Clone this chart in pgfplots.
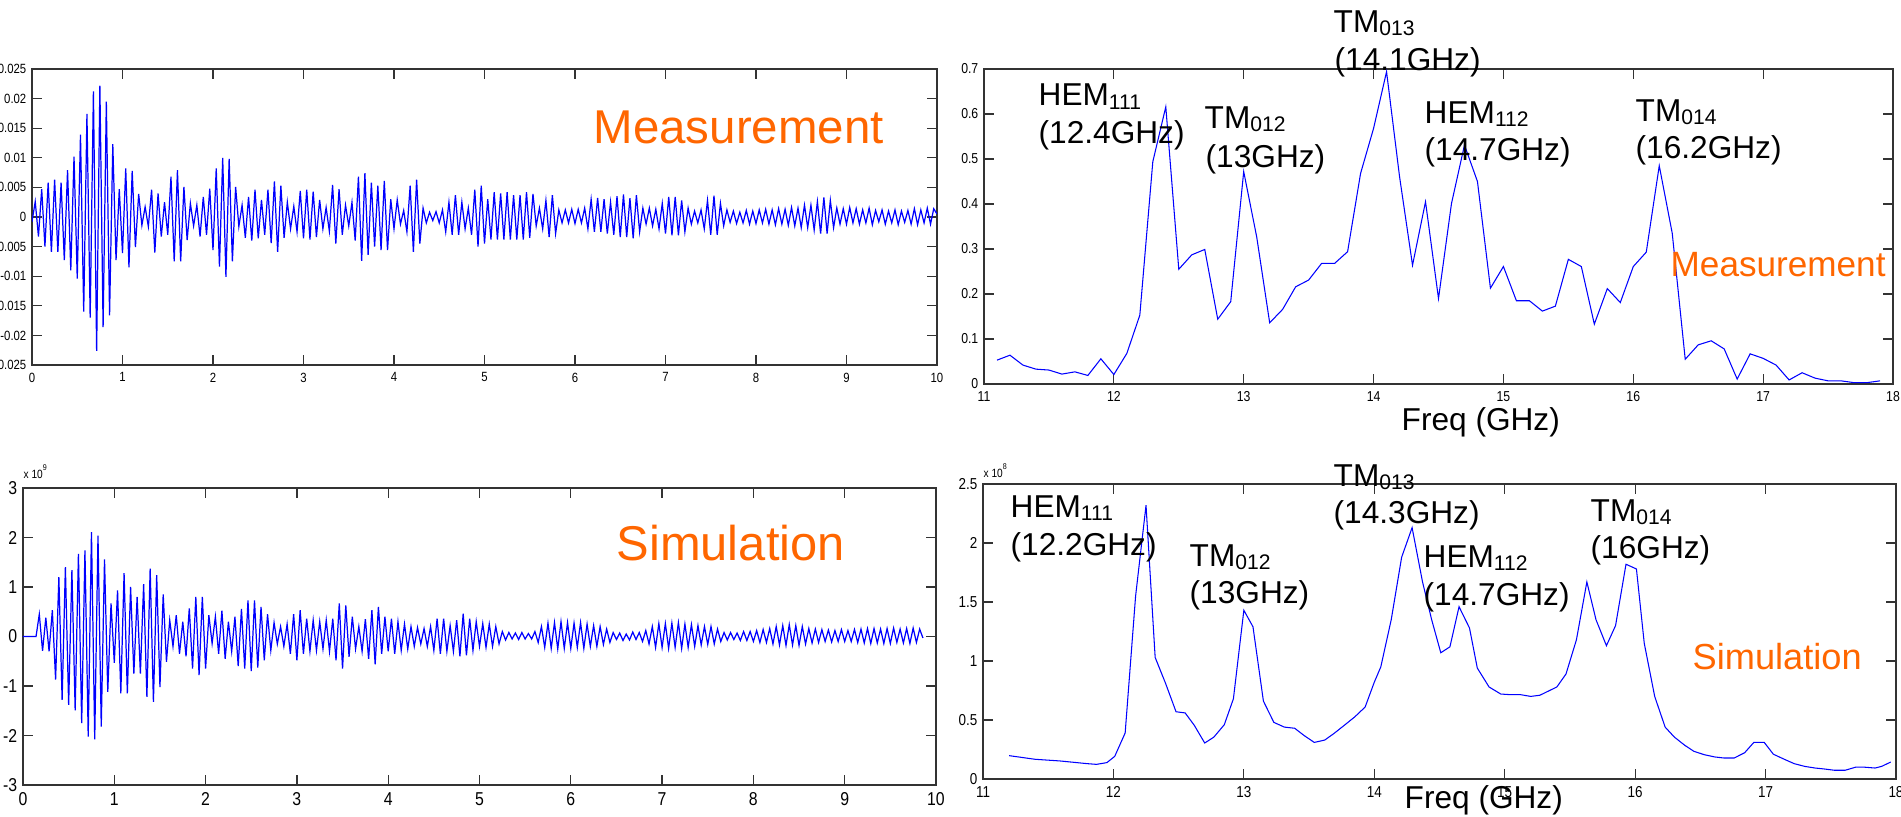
\documentclass[border=0pt]{standalone}
\usepackage{fontspec}
\setmainfont{Liberation Sans}
\newfontfamily\tickfont[FakeStretch=0.85]{Liberation Sans}
\usepackage{pgfplots}
\pgfplotsset{compat=1.18}
\definecolor{morange}{RGB}{255,102,0}
\definecolor{mblue}{RGB}{0,0,255}
\pgfplotsset{mat/.style={scale only axis, anchor=south west,
  axis line style={draw=black!80,line width=0.35pt},
  tick style={draw=black!80,line width=0.35pt},
  tick align=inside, xtick pos=both, ytick pos=both, major tick length=0.1cm,
  /pgf/number format/assume math mode=true,
  xticklabel style={inner sep=0pt, anchor=north, yshift=-0.07cm},
  yticklabel style={inner sep=0pt, anchor=east, xshift=-0.05cm}}}
\tikzset{ann/.style={anchor=base west, inner sep=0pt, font=\fontsize{9}{10}\selectfont}}
\begin{document}
\begin{tikzpicture}
\useasboundingbox (0,0) rectangle (19.01,8.16);
% ---------------- top left: measured time signal (units 1e-3)
\begin{axis}[mat, at={(0.32cm,4.51cm)}, width=9.05cm, height=2.96cm,
  xmin=0, xmax=10, ymin=-25, ymax=25, xtick={0,1,2,3,4,5,6,7,8,9,10},
  ytick={-25,-20,-15,-10,-5,0,5,10,15,20,25},
  yticklabels={-0.025,-0.02,-0.015,-0.01,-0.005,0,0.005,0.01,0.015,0.02,0.025},
  ticklabel style={font=\tickfont\fontsize{3.8}{4}\selectfont}]
\addplot[mblue, line width=0.35pt] table[row sep=\\, header=false, x expr=\coordindex/28, y index=0]{
-0.8\\ 2.6\\ -3.3\\ 4.7\\ -5.0\\ 5.8\\ -5.9\\ 6.3\\ -5.9\\ 5.8\\ -7.3\\ 7.9\\ -9.0\\ 10.2\\ -10.4\\ 13.9\\ -16.0\\ 17.4\\ -17.0\\ 21.2\\ -22.6\\ 22.2\\ -18.6\\ 19.5\\ -16.6\\ 12.3\\ -7.3\\ 4.7\\
-6.1\\ 8.2\\ -8.5\\ 7.8\\ -5.1\\ 3.9\\ -1.4\\ 1.7\\ -1.6\\ 4.6\\ -6.0\\ 4.0\\ -3.3\\ 2.5\\ -3.0\\ 6.8\\ -7.5\\ 7.9\\ -7.5\\ 5.1\\ -3.9\\ 2.3\\ -1.5\\ 2.0\\ -3.3\\ 3.4\\ -3.0\\ 4.8\\
-5.6\\ 8.2\\ -8.4\\ 10.0\\ -10.1\\ 9.8\\ -7.5\\ 5.1\\ -1.6\\ 2.0\\ -3.5\\ 3.4\\ -4.0\\ 4.6\\ -3.6\\ 2.9\\ -3.0\\ 4.6\\ -4.4\\ 6.0\\ -5.9\\ 5.3\\ -3.5\\ 2.5\\ -2.0\\ 1.8\\ -2.5\\ 4.4\\
-3.6\\ 4.6\\ -3.8\\ 4.3\\ -3.4\\ 2.9\\ -2.0\\ 1.6\\ -2.4\\ 5.4\\ -4.5\\ 4.7\\ -3.0\\ 2.0\\ -1.5\\ 2.5\\ -4.0\\ 6.8\\ -7.4\\ 7.4\\ -6.4\\ 5.8\\ -5.0\\ 5.3\\ -5.6\\ 6.1\\ -5.6\\ 3.0\\
-2.0\\ 2.9\\ -1.2\\ 1.1\\ -2.5\\ 5.3\\ -5.9\\ 6.3\\ -4.5\\ 1.5\\ -1.0\\ 0.8\\ -0.6\\ 0.9\\ -1.0\\ 1.2\\ -2.5\\ 2.5\\ -3.0\\ 3.7\\ -3.0\\ 2.5\\ -2.0\\ 1.5\\ -3.0\\ 4.6\\ -5.0\\ 5.3\\
-4.5\\ 3.0\\ -3.8\\ 4.2\\ -3.8\\ 4.0\\ -3.8\\ 4.2\\ -3.8\\ 3.7\\ -3.8\\ 3.7\\ -3.8\\ 4.2\\ -3.5\\ 3.9\\ -1.5\\ 1.5\\ -2.0\\ 2.8\\ -3.4\\ 3.7\\ -2.8\\ 1.2\\ -1.0\\ 1.2\\ -1.0\\ 1.3\\
-1.1\\ 1.3\\ -1.0\\ 1.5\\ -2.0\\ 3.0\\ -2.5\\ 3.2\\ -2.5\\ 3.0\\ -2.8\\ 2.5\\ -3.0\\ 3.5\\ -3.4\\ 3.8\\ -3.4\\ 3.2\\ -3.6\\ 3.7\\ -2.5\\ 1.5\\ -1.2\\ 1.5\\ -1.5\\ 1.3\\ -2.0\\ 2.3\\
-2.8\\ 3.4\\ -3.1\\ 3.4\\ -3.1\\ 2.8\\ -2.5\\ 1.5\\ -1.2\\ 1.0\\ -1.0\\ 1.2\\ -2.0\\ 2.8\\ -3.0\\ 3.6\\ -3.0\\ 2.3\\ -1.5\\ 1.2\\ -0.9\\ 1.0\\ -1.1\\ 0.8\\ -1.0\\ 1.1\\ -1.2\\ 1.0\\
-1.1\\ 1.2\\ -1.0\\ 1.3\\ -1.2\\ 1.2\\ -1.3\\ 1.4\\ -1.2\\ 1.3\\ -1.4\\ 1.6\\ -1.5\\ 1.5\\ -1.8\\ 2.0\\ -1.8\\ 2.0\\ -2.2\\ 2.6\\ -2.8\\ 3.3\\ -2.8\\ 2.8\\ -1.8\\ 1.5\\ -1.2\\ 1.4\\
-1.2\\ 1.6\\ -1.0\\ 1.4\\ -1.2\\ 1.2\\ -1.0\\ 1.5\\ -1.3\\ 1.1\\ -0.8\\ 1.2\\ -1.2\\ 1.0\\ -1.0\\ 1.2\\ -1.3\\ 1.0\\ -0.9\\ 1.1\\ -1.2\\ 1.4\\ -1.3\\ 1.2\\ -1.0\\ 1.5\\ -1.2\\ 1.4\\ 0.5\\
};
\end{axis}
% ---------------- top right: measured spectrum
\begin{axis}[mat, at={(9.84cm,4.32cm)}, width=9.09cm, height=3.15cm,
  xmin=11, xmax=18, ymin=0, ymax=0.7, xtick={11,12,13,14,15,16,17,18},
  ytick={0,0.1,0.2,0.3,0.4,0.5,0.6,0.7},
  yticklabels={0,0.1,0.2,0.3,0.4,0.5,0.6,0.7},
  ticklabel style={font=\tickfont\fontsize{4.1}{4.5}\selectfont}]
\addplot[mblue, line width=0.3pt] coordinates {
(11.1,0.053)(11.2,0.064)(11.3,0.042)(11.4,0.033)(11.5,0.031)(11.6,0.022)(11.7,0.027)(11.8,0.019)(11.9,0.056)(12.0,0.021)
(12.1,0.068)(12.2,0.153)(12.3,0.494)(12.4,0.616)(12.5,0.255)(12.6,0.287)(12.7,0.299)(12.8,0.144)(12.9,0.183)(13.0,0.472)
(13.1,0.327)(13.2,0.136)(13.3,0.166)(13.4,0.216)(13.5,0.231)(13.6,0.268)(13.7,0.268)(13.8,0.294)(13.9,0.468)(14.0,0.568)
(14.1,0.694)(14.2,0.461)(14.3,0.264)(14.4,0.405)(14.5,0.190)(14.6,0.401)(14.7,0.531)(14.8,0.450)(14.9,0.213)(15.0,0.261)
(15.1,0.185)(15.2,0.185)(15.3,0.162)(15.4,0.173)(15.5,0.277)(15.6,0.261)(15.7,0.133)(15.8,0.212)(15.9,0.181)(16.0,0.261)
(16.1,0.293)(16.2,0.485)(16.3,0.335)(16.4,0.055)(16.5,0.087)(16.6,0.096)(16.7,0.078)(16.8,0.011)(16.9,0.067)(17.0,0.057)
(17.1,0.042)(17.2,0.009)(17.3,0.025)(17.4,0.013)(17.5,0.007)(17.6,0.007)(17.7,0.003)(17.8,0.003)(17.9,0.007)};
\end{axis}
% ---------------- bottom left: simulated time signal (units 1e9)
\begin{axis}[mat, at={(0.23cm,0.31cm)}, width=9.13cm, height=2.97cm,
  xmin=0, xmax=10, ymin=-3, ymax=3, xtick={0,1,2,3,4,5,6,7,8,9,10},
  ytick={-3,-2,-1,0,1,2,3}, yticklabels={-3,-2,-1,0,1,2,3},
  ticklabel style={font=\tickfont\fontsize{5.3}{6}\selectfont}]
\addplot[mblue, line width=0.35pt] table[row sep=\\, header=false, x expr=\coordindex/28, y index=0]{
0\\ 0\\ 0\\ 0\\ 0\\ 0.45\\ -0.29\\ 0.38\\ -0.30\\ 0.53\\ -0.87\\ 1.2\\ -1.28\\ 1.4\\ -1.38\\ 1.34\\ -1.49\\ 1.67\\ -1.75\\ 1.74\\ -2.02\\ 2.11\\ -2.08\\ 2.04\\ -1.82\\ 1.56\\ -1.12\\ 0.67\\
-0.53\\ 0.93\\ -1.15\\ 1.28\\ -1.15\\ 1.0\\ -0.75\\ 0.8\\ -0.75\\ 1.06\\ -1.22\\ 1.37\\ -1.32\\ 1.24\\ -1.02\\ 0.85\\ -0.51\\ 0.33\\ -0.2\\ 0.43\\ -0.35\\ 0.3\\ -0.4\\ 0.57\\ -0.65\\ 0.8\\ -0.78\\ 0.8\\
-0.65\\ 0.43\\ -0.14\\ 0.4\\ -0.35\\ 0.52\\ -0.45\\ 0.3\\ -0.3\\ 0.4\\ -0.6\\ 0.56\\ -0.65\\ 0.73\\ -0.7\\ 0.73\\ -0.63\\ 0.6\\ -0.48\\ 0.45\\ -0.28\\ 0.28\\ -0.15\\ 0.2\\ -0.2\\ 0.25\\ -0.35\\ 0.45\\
-0.48\\ 0.53\\ -0.35\\ 0.36\\ -0.3\\ 0.33\\ -0.28\\ 0.3\\ -0.25\\ 0.33\\ -0.3\\ 0.36\\ -0.48\\ 0.67\\ -0.65\\ 0.63\\ -0.41\\ 0.4\\ -0.25\\ 0.2\\ -0.3\\ 0.35\\ -0.45\\ 0.53\\ -0.56\\ 0.6\\ -0.35\\ 0.4\\
-0.3\\ 0.36\\ -0.35\\ 0.3\\ -0.28\\ 0.25\\ -0.25\\ 0.2\\ -0.2\\ 0.18\\ -0.15\\ 0.16\\ -0.2\\ 0.2\\ -0.28\\ 0.36\\ -0.35\\ 0.36\\ -0.3\\ 0.22\\ -0.3\\ 0.33\\ -0.4\\ 0.46\\ -0.38\\ 0.36\\ -0.28\\ 0.3\\
-0.2\\ 0.26\\ -0.22\\ 0.25\\ -0.2\\ 0.2\\ -0.15\\ 0.1\\ -0.07\\ 0.08\\ -0.05\\ 0.07\\ -0.06\\ 0.08\\ -0.05\\ 0.06\\ -0.05\\ 0.1\\ -0.12\\ 0.2\\ -0.22\\ 0.27\\ -0.24\\ 0.28\\ -0.25\\ 0.3\\ -0.24\\ 0.28\\
-0.24\\ 0.27\\ -0.22\\ 0.28\\ -0.24\\ 0.25\\ -0.2\\ 0.22\\ -0.2\\ 0.2\\ -0.16\\ 0.15\\ -0.12\\ 0.08\\ -0.06\\ 0.07\\ -0.08\\ 0.05\\ -0.07\\ 0.09\\ -0.06\\ 0.08\\ -0.1\\ 0.12\\ -0.15\\ 0.2\\ -0.22\\ 0.26\\
-0.22\\ 0.26\\ -0.24\\ 0.27\\ -0.22\\ 0.28\\ -0.24\\ 0.25\\ -0.22\\ 0.24\\ -0.2\\ 0.22\\ -0.17\\ 0.2\\ -0.16\\ 0.2\\ -0.15\\ 0.15\\ -0.1\\ 0.08\\ -0.07\\ 0.08\\ -0.06\\ 0.07\\ -0.08\\ 0.1\\ -0.08\\ 0.1\\
-0.1\\ 0.12\\ -0.12\\ 0.14\\ -0.12\\ 0.16\\ -0.15\\ 0.2\\ -0.17\\ 0.22\\ -0.18\\ 0.24\\ -0.17\\ 0.22\\ -0.18\\ 0.2\\ -0.15\\ 0.16\\ -0.13\\ 0.15\\ -0.12\\ 0.14\\ -0.1\\ 0.13\\ -0.11\\ 0.12\\ -0.1\\ 0.14\\
-0.1\\ 0.12\\ -0.1\\ 0.14\\ -0.12\\ 0.15\\ -0.13\\ 0.16\\ -0.14\\ 0.16\\ -0.13\\ 0.15\\ -0.14\\ 0.16\\ -0.14\\ 0.17\\ -0.12\\ 0.15\\ -0.13\\ 0.16\\ -0.14\\ 0.17\\ -0.12\\ 0.15\\ -0.03\\
};
\end{axis}
% ---------------- bottom right: simulated spectrum (units 1e8)
\begin{axis}[mat, at={(9.83cm,0.37cm)}, width=9.13cm, height=2.95cm,
  xmin=11, xmax=18, ymin=0, ymax=2.5, xtick={11,12,13,14,15,16,17,18},
  ytick={0,0.5,1,1.5,2,2.5}, yticklabels={0,0.5,1,1.5,2,2.5},
  ticklabel style={font=\tickfont\fontsize{4.5}{5}\selectfont}]
\addplot[mblue, line width=0.3pt] coordinates {
(11.20,0.198)(11.40,0.167)(11.59,0.153)(11.80,0.13)(11.87,0.124)(11.95,0.139)(12.01,0.192)(12.09,0.39)(12.17,1.55)(12.25,2.32)
(12.32,1.03)(12.40,0.81)(12.48,0.57)(12.55,0.56)(12.62,0.455)(12.70,0.305)(12.77,0.355)(12.85,0.46)(12.92,0.68)(13.00,1.43)
(13.07,1.29)(13.15,0.66)(13.23,0.48)(13.31,0.44)(13.39,0.43)(13.46,0.37)(13.54,0.31)(13.62,0.33)(13.69,0.385)(13.77,0.455)
(13.85,0.526)(13.93,0.61)(14.00,0.82)(14.05,0.95)(14.13,1.35)(14.21,1.88)(14.29,2.13)(14.37,1.67)(14.44,1.35)(14.51,1.07)
(14.58,1.12)(14.65,1.46)(14.73,1.28)(14.79,0.94)(14.88,0.78)(14.97,0.72)(15.04,0.715)(15.12,0.715)(15.20,0.70)(15.27,0.71)
(15.40,0.78)(15.47,0.89)(15.55,1.18)(15.63,1.67)(15.70,1.35)(15.78,1.13)(15.85,1.30)(15.93,1.82)(16.01,1.78)(16.07,1.15)
(16.15,0.70)(16.23,0.44)(16.30,0.356)(16.38,0.286)(16.45,0.235)(16.53,0.206)(16.61,0.187)(16.68,0.178)(16.76,0.178)(16.84,0.223)
(16.91,0.31)(16.99,0.31)(17.06,0.21)(17.15,0.164)(17.22,0.13)(17.30,0.107)(17.38,0.093)(17.45,0.085)(17.53,0.074)(17.61,0.074)
(17.69,0.10)(17.76,0.10)(17.84,0.093)(17.89,0.107)(17.96,0.144)};
\end{axis}
% ---------------- texts
\node[anchor=base west, inner sep=0pt, text=morange, font=\fontsize{13.5}{14}\selectfont] at (5.93,6.72) {Measurement};
\node[anchor=base west, inner sep=0pt, text=morange, font=\fontsize{13.9}{14}\selectfont] at (6.16,2.56) {Simulation};
\node[anchor=base west, inner sep=0pt, text=morange, font=\fontsize{10}{11}\selectfont] at (16.70,5.40) {Measurement};
\node[anchor=base west, inner sep=0pt, text=morange, font=\fontsize{10.3}{11}\selectfont] at (16.92,1.47) {Simulation};
% top right labels
\node[ann] at (10.38,7.10) {HEM\textsubscript{111}};
\node[ann] at (10.38,6.72) {(12.4GHz)};
\node[ann] at (12.04,6.88) {TM\textsubscript{012}};
\node[ann] at (12.05,6.49) {(13GHz)};
\node[ann] at (13.33,7.84) {TM\textsubscript{013}};
\node[ann] at (13.34,7.45) {(14.1GHz)};
\node[ann] at (14.24,6.93) {HEM\textsubscript{112}};
\node[ann] at (14.24,6.56) {(14.7GHz)};
\node[ann] at (16.35,6.95) {TM\textsubscript{014}};
\node[ann] at (16.35,6.57) {(16.2GHz)};
\node[ann] at (14.01,3.86) {Freq (GHz)};
% bottom right labels
\node[ann] at (10.10,2.99) {HEM\textsubscript{111}};
\node[ann] at (10.10,2.61) {(12.2GHz)};
\node[ann] at (11.89,2.50) {TM\textsubscript{012}};
\node[ann] at (11.89,2.13) {(13GHz)};
\node[ann] at (13.33,3.30) {TM\textsubscript{013}};
\node[ann] at (13.33,2.93) {(14.3GHz)};
\node[ann] at (14.23,2.49) {HEM\textsubscript{112}};
\node[ann] at (14.23,2.11) {(14.7GHz)};
\node[ann] at (15.90,2.95) {TM\textsubscript{014}};
\node[ann] at (15.90,2.58) {(16GHz)};
\node[ann] at (14.04,0.08) {Freq (GHz)};
% exponent labels
\node[anchor=base west, inner sep=0pt, font=\tickfont\fontsize{3.4}{4}\selectfont] at (0.23,3.38) {x 10\textsuperscript{9}};
\node[anchor=base west, inner sep=0pt, font=\tickfont\fontsize{3.4}{4}\selectfont] at (9.83,3.39) {x 10\textsuperscript{8}};
\end{tikzpicture}
\end{document}
